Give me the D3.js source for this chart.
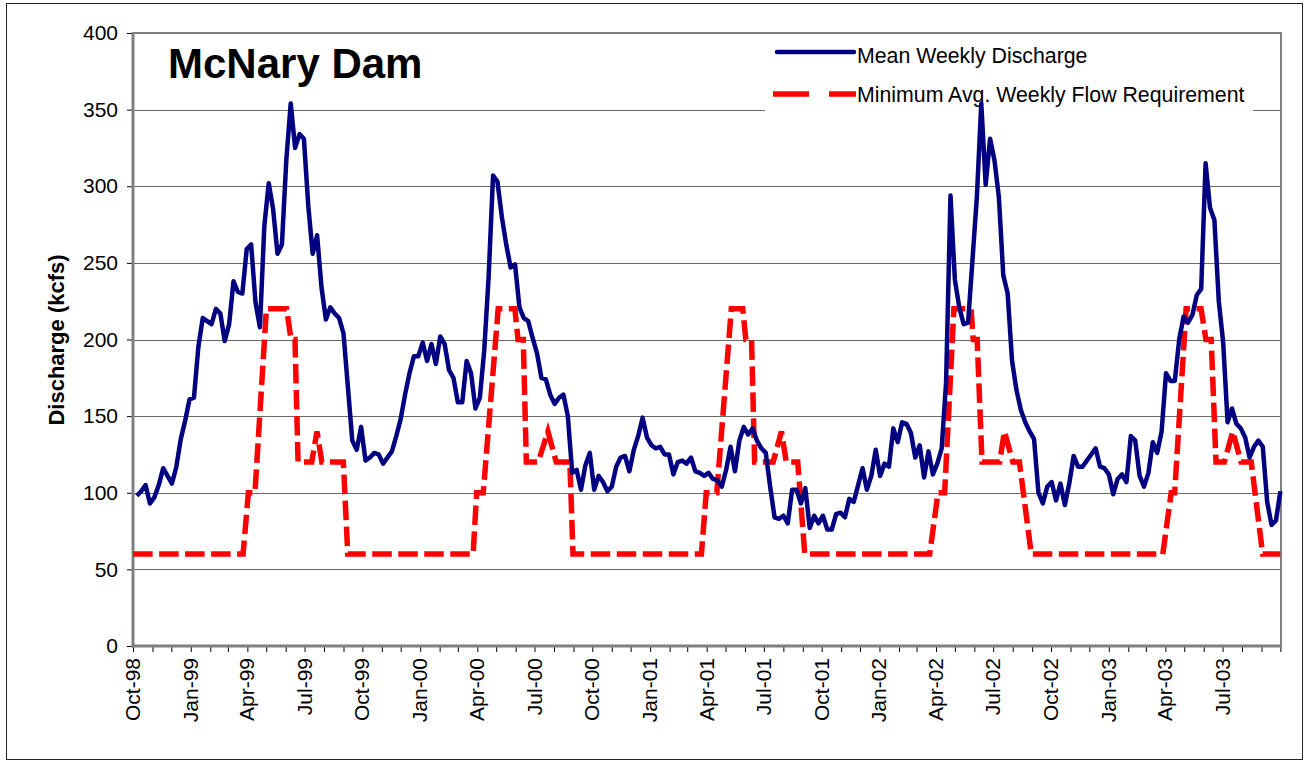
<!DOCTYPE html>
<html>
<head>
<meta charset="utf-8">
<script src="https://cdn.jsdelivr.net/npm/d3@7"></script>
<style>
  html, body { margin: 0; padding: 0; background: #fff; }
  svg { display: block; font-family: "Liberation Sans", Arial, sans-serif; }
</style>
</head>
<body>
<svg id="chart" width="1307" height="761"></svg>
<script>
// ---- DATA ----
const chartTitle = "McNary Dam";
const yLabel = "Discharge (kcfs)";
const seriesNames = ["Mean Weekly Discharge", "Minimum Avg. Weekly Flow Requirement"];
const yTicks = [0, 50, 100, 150, 200, 250, 300, 350, 400];
const firstWeek = new Date(1998, 9, 7);          // first weekly discharge value
const reqStart = new Date(1998, 9, 4);           // origin of requirement break-point weeks
const axisStart = new Date(1998, 9, 1);
const axisEnd = new Date(2003, 9, 2);

// mean weekly discharge (kcfs), one value per week from firstWeek
const discharge = [
  98,101,105,93,97,105,116,111,106,117,135,147,161,162,195,214,212,210,220,217,
  199,210,238,231,230,259,262,224,208,274,302,285,256,262,317,354,325,334,331,287,
  256,268,234,213,221,217,214,204,169,134,128,143,121,123,126,125,119,123,127,137,
  148,164,178,189,189,198,186,197,184,202,197,180,175,159,159,186,178,155,162,193,
  241,307,303,280,262,247,249,221,214,212,201,191,175,174,164,158,162,164,150,113,
  115,102,118,126,102,111,107,101,104,117,123,124,114,128,137,149,136,131,129,130,
  125,125,112,120,121,119,123,114,113,111,113,109,108,104,115,130,114,134,143,138,
  142,134,129,126,104,84,83,85,80,102,102,93,103,77,85,80,85,76,76,86,
  87,84,96,94,105,116,102,111,128,111,119,117,142,133,146,145,139,123,131,110,
  127,112,119,129,172,294,239,221,210,211,252,293,354,301,331,317,293,242,230,186,
  167,154,146,140,135,100,93,104,107,95,106,92,106,124,117,117,121,125,129,
  117,116,112,99,109,112,107,137,134,111,104,113,133,126,140,178,173,173,200,215,
  211,216,229,233,315,286,278,225,198,146,155,145,142,136,123,130,134,130,94,79,
  82,101
];

// minimum flow requirement: break points (week number from reqStart, kcfs)
const reqWeek = [
  -0.4,24.6,25.8,27.3,29.9,34.5,35.5,36.4,37.1,40.2,41.4,42.5,47.4,48.4,
  76.9,77.7,79.2,82.6,86.4,87.1,88.3,89.0,91.7,93.9,95.8,98.9,99.6,
  128.8,129.9,132.3,135.6,138.2,138.9,140.2,140.9,145.1,147.0,148.1,150.7,152.3,
  180.7,182.6,184.1,186.2,190.1,190.6,191.5,192.6,196.6,197.7,199.6,201.1,203.8,
  233.7,235.6,236.4,239.0,242.4,243.5,244.7,245.8,247.7,249.6,251.5,253.8,256.4,260.4
];
const reqValue = [
  60,60,100,100,220,220,200,200,120,120,140,120,120,60,
  60,100,100,220,220,200,200,120,120,140,120,120,60,
  60,100,100,220,220,200,200,120,120,140,120,120,60,
  60,100,100,220,220,200,200,120,120,140,120,120,60,
  60,100,100,220,220,200,200,120,120,140,120,120,60,60
];

// ---- CHART ----
const svg = d3.select("#chart");
const L = 133, R = 1281, T = 33, B = 646;
const weekMs = 7 * 864e5;
const weekDate = (base, w) => new Date(base.getTime() + w * weekMs);

const x = d3.scaleTime().domain([axisStart, axisEnd]).range([L, R]);
const y = d3.scaleLinear().domain([0, 400]).range([B, T]);

// outer frame
svg.append("rect").attr("x", 6.5).attr("y", 3.5).attr("width", 1296).attr("height", 756)
  .attr("fill", "#fff").attr("stroke", "#222").attr("stroke-width", 1);

// gridlines
svg.append("g").selectAll("line").data(yTicks.filter(d => d > 0 && d < 400)).join("line")
  .attr("x1", L).attr("x2", R)
  .attr("y1", d => Math.round(y(d)) + 0.5).attr("y2", d => Math.round(y(d)) + 0.5)
  .attr("stroke", "#6a6a6a").attr("stroke-width", 1);

// legend background (hides gridline behind legend)
const lg = svg.append("g");
lg.append("rect").attr("x", 765).attr("y", 36).attr("width", 488).attr("height", 78).attr("fill", "#fff");

// plot border
svg.append("line").attr("x1", L).attr("x2", R).attr("y1", T).attr("y2", T)
  .attr("stroke", "#808080").attr("stroke-width", 2);
svg.append("line").attr("x1", R).attr("x2", R).attr("y1", T - 1).attr("y2", B)
  .attr("stroke", "#808080").attr("stroke-width", 2);

// y axis
const yAxis = d3.axisLeft(y).tickValues(yTicks).tickSize(6).tickPadding(9).tickFormat(d3.format("d"));
const gy = svg.append("g").attr("transform", `translate(${L},0)`).call(yAxis);
gy.select(".domain").remove();
gy.selectAll(".tick line").attr("stroke", "#000");
gy.selectAll(".tick text").attr("font-size", 21).attr("fill", "#000")
  .attr("font-family", "'Liberation Sans', Arial, sans-serif");

// x axis: monthly ticks, quarterly labels
const months = d3.timeMonth.range(axisStart, axisEnd);
const fmt = d3.timeFormat("%b-%y");
const xAxis = d3.axisBottom(x).tickValues(months).tickSize(6).tickFormat("");
const gx = svg.append("g").attr("transform", `translate(0,${B})`).call(xAxis);
gx.select(".domain").remove();
gx.selectAll(".tick line").attr("stroke", "#000");
const labelMonths = months.filter(d => d.getMonth() % 3 === 0 && d < new Date(2003, 8, 1));
svg.append("g").selectAll("text").data(labelMonths).join("text")
  .attr("transform", d => `translate(${x(d) + 7},${B + 12}) rotate(-90)`)
  .attr("text-anchor", "end")
  .attr("font-size", 21).attr("fill", "#000")
  .text(d => fmt(d));

// axis lines (thick grey)
svg.append("line").attr("x1", L).attr("x2", L).attr("y1", T - 1).attr("y2", B + 1.5)
  .attr("stroke", "#808080").attr("stroke-width", 3);
svg.append("line").attr("x1", L - 1.5).attr("x2", R + 1).attr("y1", B).attr("y2", B)
  .attr("stroke", "#808080").attr("stroke-width", 3);

// y title
svg.append("text").attr("transform", `translate(64,340) rotate(-90)`)
  .attr("text-anchor", "middle").attr("font-size", 22).attr("font-weight", "bold")
  .text(yLabel);

// chart title
svg.append("text").attr("x", 168).attr("y", 78).attr("font-size", 42).attr("font-weight", "bold")
  .text(chartTitle);

// legend items
lg.append("line").attr("x1", 777).attr("x2", 854).attr("y1", 52).attr("y2", 52)
  .attr("stroke", "#000080").attr("stroke-width", 4.5).attr("stroke-linecap", "round");
lg.append("text").attr("x", 857).attr("y", 63).attr("font-size", 21.3).text(seriesNames[0]);
lg.append("line").attr("x1", 773).attr("x2", 809).attr("y1", 94).attr("y2", 94)
  .attr("stroke", "#ff0000").attr("stroke-width", 5.5);
lg.append("line").attr("x1", 829).attr("x2", 856).attr("y1", 94).attr("y2", 94)
  .attr("stroke", "#ff0000").attr("stroke-width", 5.5);
lg.append("text").attr("x", 857).attr("y", 102).attr("font-size", 21.3).text(seriesNames[1]);

// requirement line (dashed red)
const reqPts = reqWeek.map((w, i) => [weekDate(reqStart, w), reqValue[i]]);
svg.append("path").datum(reqPts)
  .attr("fill", "none").attr("stroke", "#ff0000").attr("stroke-width", 5.5)
  .attr("stroke-dasharray", "19.5,6.5")
  .attr("d", d3.line().x(d => x(d[0])).y(d => y(d[1])));

// discharge line (navy)
const disPts = discharge.map((v, i) => [weekDate(firstWeek, i), v]);
svg.append("path").datum(disPts)
  .attr("fill", "none").attr("stroke", "#000080").attr("stroke-width", 4.5)
  .attr("stroke-linejoin", "round")
  .attr("d", d3.line().x(d => x(d[0])).y(d => y(d[1])));
</script>
</body>
</html>
